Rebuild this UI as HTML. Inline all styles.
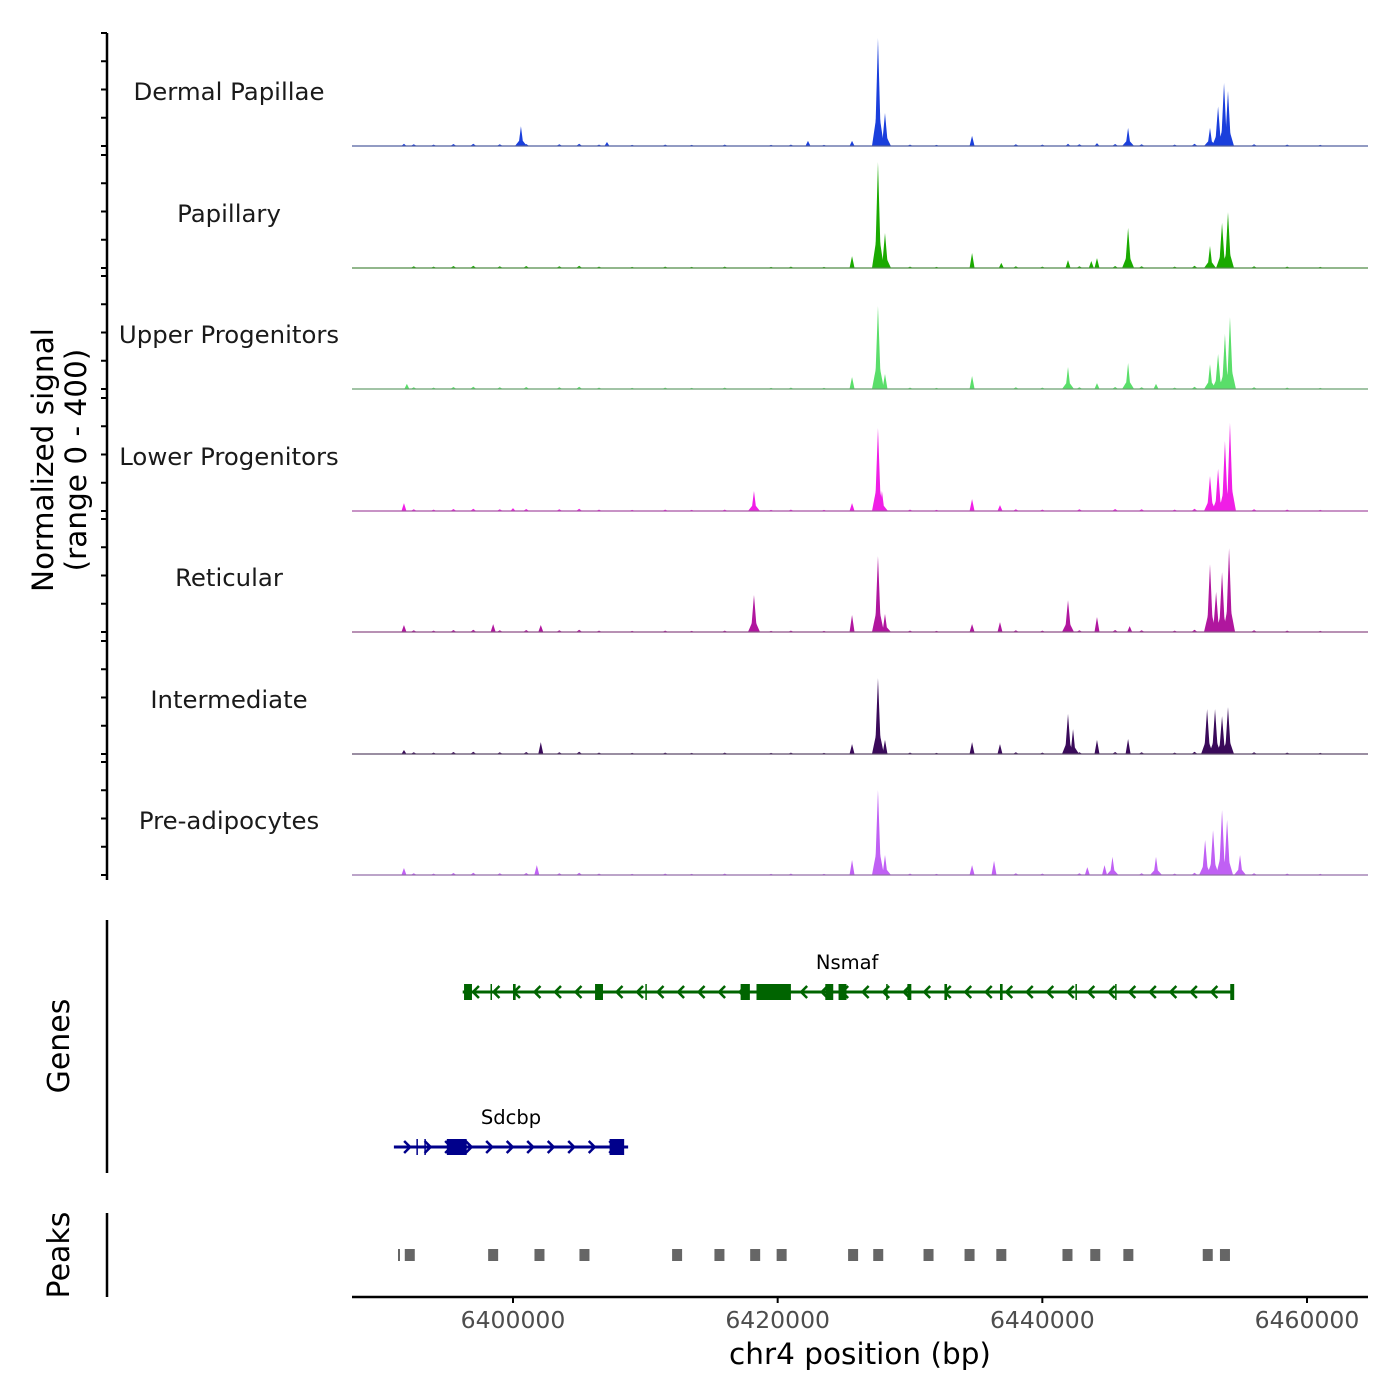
<!DOCTYPE html>
<html><head><meta charset="utf-8"><style>
body{margin:0;background:#fff}
svg{display:block;font-family:"DejaVu Sans","Liberation Sans",sans-serif}
</style></head><body>
<svg id="chart" width="1400" height="1400" viewBox="0 0 1400 1400"></svg>
<script>
const NS="http://www.w3.org/2000/svg";
// ---- data ----
const trackNames=["Dermal Papillae","Papillary","Upper Progenitors","Lower Progenitors","Reticular","Intermediate","Pre-adipocytes"];
const trackColors=["#1a3fdc","#1aaa00","#5ade6a","#f01ee6","#b0169e","#3a0a5a","#c060f4"];
const pk0pos=[6427580,6428110,6400600,6446480,6452670,6453280,6453730,6454030,6425620,6434690,6422290,6407100,6391760,6444130,6441940];
const pk0val=[382,117,70,64,64,140,223,195,18,36,18,14,8,10,8];
const pk1pos=[6427580,6428110,6425620,6434690,6446480,6444130,6441940,6452670,6453580,6454030,6436900,6443700];
const pk1val=[375,124,42,53,142,35,28,78,160,198,18,25];
const pk2pos=[6427580,6428110,6425620,6434690,6441940,6444130,6446480,6448590,6452670,6453280,6453800,6454180,6391980];
const pk2val=[294,53,42,46,78,21,92,18,88,124,195,255,18];
const pk3pos=[6427580,6427880,6425620,6418210,6434690,6436800,6452670,6453280,6453800,6454180,6391760,6400000];
const pk3val=[294,71,28,71,42,21,124,149,248,312,28,10];
const pk4pos=[6427580,6425620,6428110,6418210,6441940,6444130,6434690,6436800,6452670,6453130,6453580,6454110,6398500,6402100,6391760,6446600];
const pk4val=[269,60,64,131,113,53,28,35,240,142,212,297,28,25,25,21];
const pk5pos=[6427580,6425620,6428110,6434690,6436800,6441940,6442320,6444130,6446480,6452450,6453050,6453580,6454030,6402100,6391760];
const pk5val=[269,35,50,42,35,142,88,50,53,159,159,134,166,42,14];
const pk6pos=[6427580,6425620,6428110,6434690,6436350,6445300,6448590,6443400,6452300,6452900,6453580,6453960,6454940,6401800,6391760,6444700];
const pk6val=[301,53,71,35,50,64,64,28,124,159,230,195,71,35,25,35];
const peakPos=[[pk0pos,pk0val],[pk1pos,pk1val],[pk2pos,pk2val],[pk3pos,pk3val],[pk4pos,pk4val],[pk5pos,pk5val],[pk6pos,pk6val]];
const bgPos=[6392500,6394000,6395500,6397000,6399000,6401000,6403500,6405000,6406500,6409000,6411500,6413500,6416000,6419500,6421000,6423500,6430000,6432000,6438000,6440000,6442800,6445500,6447500,6450000,6451500,6456000,6458500,6461000];
const bgVal=[6,5,7,8,6,7,6,8,5,4,5,4,5,4,5,4,5,4,6,5,6,7,6,5,8,6,5,4];
const xTicks=[6400000,6420000,6440000,6460000];
const peakRegions=[6392200,6398500,6402000,6405400,6412400,6415600,6418300,6420300,6425700,6427600,6431400,6434500,6436900,6441900,6444000,6446500,6452500,6453800];
const nsmafExons=[[6396300,6396900],[6398300,6398400],[6400000,6400200],[6406200,6406800],[6410000,6410100],[6417200,6417900],[6418400,6421000],[6423600,6424200],[6424600,6425200],[6428200,6428300],[6429800,6430100],[6432600,6432800],[6436800,6437000],[6442500,6442600],[6445500,6445600],[6454200,6454500]];
const sdcbpExons=[[6392700,6392800],[6393300,6393400],[6395000,6396500],[6407300,6408400]];

const X0=6400000,PX0=513,PPB=794/60000;
const xs=b=>PX0+(b-X0)*PPB;
const baselines=[146,268,389,511,632,754,875];
const TH=113;
const ys=(i,v)=>baselines[i]-v/400*TH;

const svg=document.getElementById("chart");
function el(tag,attrs,parent){const e=document.createElementNS(NS,tag);for(const k in attrs)e.setAttribute(k,attrs[k]);(parent||svg).appendChild(e);return e;}

trackNames.forEach((name,i)=>{
  const g=el("g",{});
  
  
  const col=trackColors[i];
  const [pos,val]=peakPos[i];
  const all=pos.map((p,j)=>[p,val[j],1]).concat(bgPos.map((p,j)=>[p,bgVal[j],0]));
  all.forEach(([p,v,big])=>{
    const cx=xs(p),w=big?(v>100?3:2.5):3;
    const poly=el("polygon",{points:`${cx-w},${baselines[i]} ${cx},${ys(i,v)} ${cx+w},${baselines[i]}`,fill:col},g);
    
    
    if(big&&v>60){
      const sh=el("polygon",{points:`${cx-6},${baselines[i]} ${cx-2},${ys(i,v*0.25)} ${cx+2},${ys(i,v*0.25)} ${cx+6},${baselines[i]}`,fill:col},g);
      
      
    }
  });
  const bl=el("line",{x1:352,x2:1368,y1:baselines[i],y2:baselines[i],stroke:col,"stroke-width":1.2},g);
  
  
  const bl2=el("line",{x1:352,x2:1368,y1:baselines[i],y2:baselines[i],stroke:"#777","stroke-width":0.8},g);
  
  
  const t=el("text",{x:229,y:baselines[i]-46,"text-anchor":"middle","font-size":24.4,fill:"#1a1a1a"},g);
  t.textContent=name;
  
  
  for(let k=0;k<=4;k++){
    const tk=el("line",{x1:101,x2:107,y1:baselines[i]-k*TH/4,y2:baselines[i]-k*TH/4,stroke:"#000","stroke-width":2},g);
    
    
  }
});
const ya=el("line",{x1:107,x2:107,y1:33,y2:880,stroke:"#000","stroke-width":2.5});


const yt=el("text",{transform:"translate(53,460) rotate(-90)","text-anchor":"middle","font-size":29.5,fill:"#000"});


const ts1=el("tspan",{x:0,dy:0},yt);ts1.textContent="Normalized signal";
const ts2=el("tspan",{x:0,dy:33},yt);ts2.textContent="(range 0 - 400)";

function drawGene(name,s,e,strand,y,col,exons){
  const g=el("g",{});
  
  
  el("line",{x1:xs(s),x2:xs(e),y1:y,y2:y,stroke:col,"stroke-width":3},g);
  for(let b=s+1000;b<e-500;b+=1550){
    const cx=xs(b);
    const d=strand>0?`M${cx-3},${y-6} L${cx+3},${y} L${cx-3},${y+6}`:`M${cx+3},${y-6} L${cx-3},${y} L${cx+3},${y+6}`;
    el("path",{d,stroke:col,"stroke-width":2.5,fill:"none"},g);
  }
  exons.forEach(([a,b])=>{
    const w=Math.max(1.5,xs(b)-xs(a));
    el("rect",{x:xs(a),y:y-8,width:w,height:16,fill:col},g);
  });
  const t=el("text",{x:(xs(s)+xs(e))/2,y:y-23,"text-anchor":"middle","font-size":19.5,fill:"#000"},g);
  t.textContent=name;
  
  
}
drawGene("Nsmaf",6396200,6454300,-1,992,"#006400",nsmafExons);
drawGene("Sdcbp",6391000,6408700,1,1147,"#00008b",sdcbpExons);
const ga=el("line",{x1:107,x2:107,y1:920,y2:1173,stroke:"#000","stroke-width":2.5});


const gt=el("text",{transform:"translate(69,1046) rotate(-90)","text-anchor":"middle","font-size":30});
gt.textContent="Genes";



peakRegions.forEach(p=>{
  const r=el("rect",{x:xs(p)-5,y:1249,width:10,height:12,fill:"#666"});
  
  
});
const thin=el("rect",{x:398,y:1249,width:2,height:12,fill:"#666"});


const pa=el("line",{x1:107,x2:107,y1:1213,y2:1297,stroke:"#000","stroke-width":2.5});


const pt=el("text",{transform:"translate(69,1255) rotate(-90)","text-anchor":"middle","font-size":30});
pt.textContent="Peaks";



const xa=el("line",{x1:352,x2:1368,y1:1297,y2:1297,stroke:"#000","stroke-width":2.5});


xTicks.forEach(t=>{
  const l=el("line",{x1:xs(t),x2:xs(t),y1:1297,y2:1303,stroke:"#000","stroke-width":2});
  
  
  const tx=el("text",{x:xs(t),y:1328,"text-anchor":"middle","font-size":23.5,fill:"#4d4d4d"});
  tx.textContent=String(t);
  
  
});
const xt=el("text",{x:860,y:1364,"text-anchor":"middle","font-size":29.5});
xt.textContent="chr4 position (bp)";


</script>
</body></html>
